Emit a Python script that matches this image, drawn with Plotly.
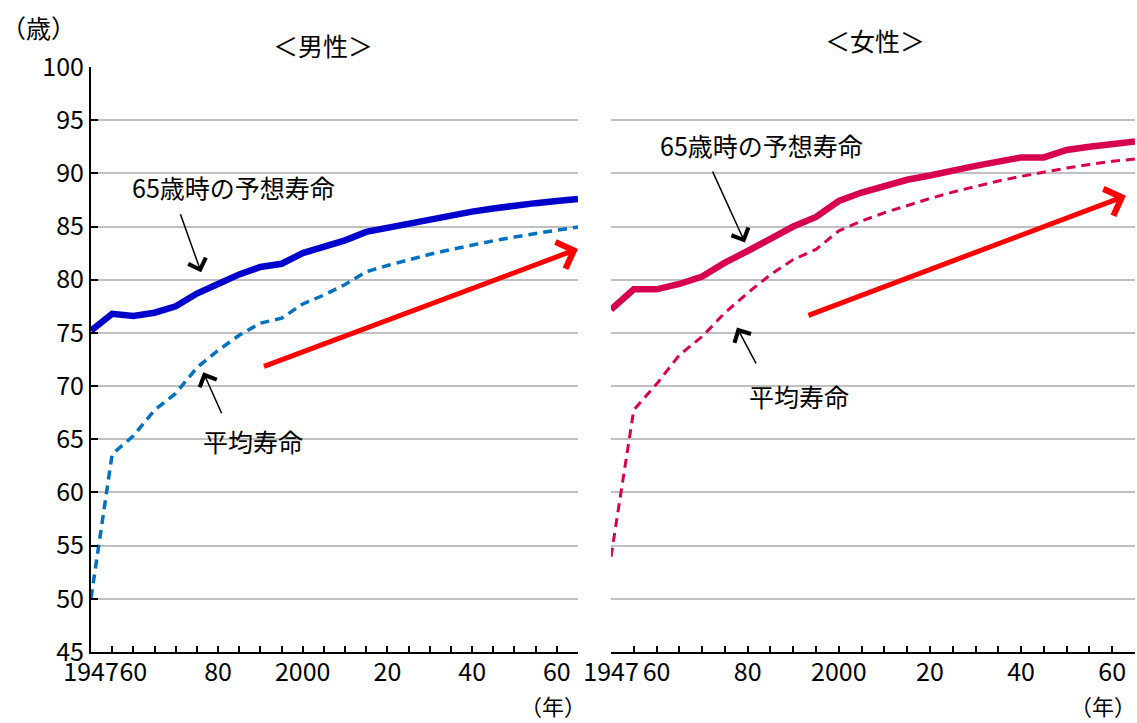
import plotly.graph_objects as go

years = ["1947", "1955", "1960", "1965", "1970", "1975", "1980", "1985", "1990", "1995",
         "2000", "2005", "2010", "2015", "2020", "2025", "2030", "2035", "2040", "2045",
         "2050", "2055", "2060", "2065"]
tick_labels = ["1947", "", "60", "", "", "", "80", "", "", "", "2000", "", "", "", "20", "",
               "", "", "40", "", "", "", "60", ""]

male_avg = [50.06, 63.60, 65.32, 67.74, 69.31, 71.73, 73.35, 74.78, 75.92, 76.38,
            77.72, 78.56, 79.55, 80.75, 81.34, 81.89, 82.39, 82.84, 83.27, 83.66,
            84.02, 84.36, 84.66, 84.95]
male_65 = [75.2, 76.8, 76.6, 76.9, 77.5, 78.7, 79.6, 80.5, 81.2, 81.5,
           82.5, 83.1, 83.7, 84.5, 84.9, 85.3, 85.7, 86.0, 86.4, 86.7,
           87.0, 87.2, 87.4, 87.6]
female_avg = [53.96, 67.75, 70.19, 72.92, 74.66, 76.89, 78.76, 80.48, 81.90, 82.85,
              84.60, 85.52, 86.30, 86.99, 87.64, 88.24, 88.79, 89.28, 89.72, 90.13,
              90.50, 90.83, 91.14, 91.35]
female_65 = [77.2, 79.1, 79.1, 79.6, 80.3, 81.6, 82.7, 83.9, 85.0, 85.9,
             87.4, 88.2, 88.8, 89.4, 89.8, 90.3, 90.7, 91.1, 91.5, 91.5,
             92.2, 92.5, 92.8, 93.0]

FONT = "Noto Sans CJK JP"
W, H = 1137, 723
ML, MT, MB = 0, 67, 71
PH = H - MT - MB

def px(x):
    return x / W

def py(y):
    return (H - MB - y) / PH

male_blue = "#0000CC"
male_light = "#0070C0"
female_col = "#D6004F"
red = "#FF0000"

fig = go.Figure()
fig.add_trace(go.Scatter(x=years, y=male_avg, mode="lines", xaxis="x", yaxis="y",
                         line=dict(color=male_light, width=3.5, dash="9px,6px"),
                         hoverinfo="skip", showlegend=False))
fig.add_trace(go.Scatter(x=years, y=male_65, mode="lines", xaxis="x", yaxis="y",
                         line=dict(color=male_blue, width=6.5),
                         hoverinfo="skip", showlegend=False))
fig.add_trace(go.Scatter(x=years, y=female_avg, mode="lines", xaxis="x2", yaxis="y2",
                         line=dict(color=female_col, width=3, dash="9px,6px"),
                         hoverinfo="skip", showlegend=False))
fig.add_trace(go.Scatter(x=years, y=female_65, mode="lines", xaxis="x2", yaxis="y2",
                         line=dict(color=female_col, width=6.5),
                         hoverinfo="skip", showlegend=False))

xcommon = dict(type="category", range=[0, len(years) - 1], tickmode="array",
               tickvals=years, ticktext=tick_labels, ticks="inside", ticklen=6,
               tickwidth=1.5, tickcolor="black", showline=True, linecolor="black",
               linewidth=2, showgrid=False, zeroline=False, automargin=False,
               ticklabelstandoff=-3,
               tickfont=dict(family=FONT, size=25, color="black"), tickangle=0)
ycommon = dict(range=[45, 100], dtick=5, tick0=45, showgrid=True, gridcolor="#C0C0C0",
               gridwidth=2, zeroline=False, automargin=False)

fig.update_layout(
    template="none",
    width=W, height=H,
    margin=dict(l=ML, r=0, t=MT, b=MB, pad=0, autoexpand=False),
    paper_bgcolor="white", plot_bgcolor="white",
    font=dict(family=FONT, size=25, color="black"),
    xaxis=dict(domain=[px(91), px(578)], anchor="y", **xcommon),
    xaxis2=dict(domain=[px(611), px(1135)], anchor="y2", **xcommon),
    yaxis=dict(domain=[0, 1], anchor="x", showline=True, linecolor="black", linewidth=2,
               ticks="inside", ticklen=7, tickwidth=2, tickcolor="black",
               tickfont=dict(family=FONT, size=25, color="black"), **ycommon),
    yaxis2=dict(domain=[0, 1], anchor="x2", showline=False, showticklabels=False,
                ticks="", **ycommon),
)

def arrow(xref, yref, x, y, ax, ay, color, width, size, head=5):
    fig.add_annotation(x=x, y=y, ax=ax, ay=ay, xref=xref, yref=yref, axref=xref,
                       ayref=yref, text="", showarrow=True, arrowhead=head,
                       arrowsize=size, arrowwidth=width, arrowcolor=color)

# red trend arrows
arrow("x", "y", 23.0, 82.9, 8.1, 71.8, red, 5, 1.1, head=4)
arrow("x2", "y2", 22.6, 87.9, 8.6, 76.6, red, 5, 1.1, head=4)
# black pointer arrows
arrow("x", "y", 5.2, 80.7, 4.2, 86.3, "black", 1.5, 2.4, head=4)
arrow("x", "y", 5.3, 71.3, 6.2, 67.3, "black", 1.5, 2.4, head=4)
arrow("x2", "y2", 5.88, 83.5, 4.43, 90.3, "black", 1.5, 2.4, head=4)
arrow("x2", "y2", 5.53, 75.5, 6.4, 72.0, "black", 1.5, 2.4, head=4)

def label(text, x, y, size=25, xref="paper", yref="paper", xanchor="center",
          yanchor="middle"):
    fig.add_annotation(x=x, y=y, xref=xref, yref=yref, text=text, showarrow=False,
                       font=dict(family=FONT, size=size, color="black"),
                       xanchor=xanchor, yanchor=yanchor, borderpad=0)

label("65歳時の予想寿命", 6.75, 88.7, xref="x", yref="y")
label("平均寿命", 7.65, 64.8, xref="x", yref="y")
label("65歳時の予想寿命", 6.6, 92.7, xref="x2", yref="y2")
label("平均寿命", 8.25, 69.1, xref="x2", yref="y2")

label("＜男性＞", px(323), py(45))
label("＜女性＞", px(875), py(40))
label("（歳）", px(38), py(27))
label("（年）", px(553), py(722), size=22, yanchor="bottom")
label("（年）", 1.0, py(722), size=22, xanchor="right", yanchor="bottom")

fig.write_html("out.html", config={"displayModeBar": False},
               post_script="document.body.style.margin='0';document.body.style.overflow='hidden';")
